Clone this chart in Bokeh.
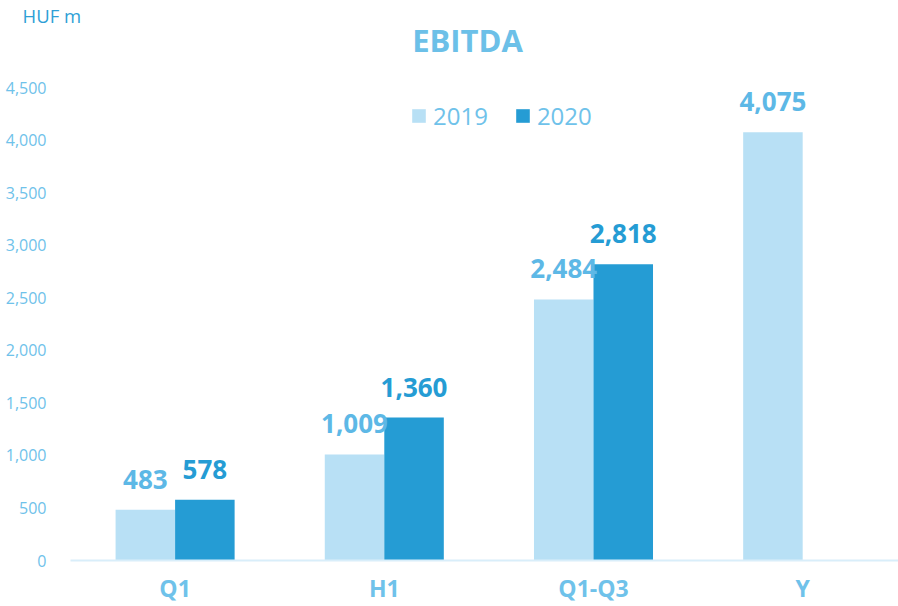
from bokeh.plotting import figure
from bokeh.models import (ColumnDataSource, Range1d, FixedTicker, Label,
                          NumeralTickFormatter, LabelSet, Legend, LegendItem)
from bokeh.core.properties import value
from bokeh.embed import file_html
from bokeh.resources import INLINE

categories = ["Q1", "H1", "Q1-Q3", "Y"]
values_2019 = [483, 1009, 2484, 4075]
values_2020 = [578, 1360, 2818, None]
series_names = ["2019", "2020"]
y_ticks = [0, 500, 1000, 1500, 2000, 2500, 3000, 3500, 4000, 4500]

C2019 = "#B8E0F5"
C2020 = "#259CD4"
LBL2019 = "#5DB8E6"
LBL2020 = "#259CD4"
TICK = "#6FC2EA"
FONT = "Open Sans"
BW = 0.2845  # bar width, in category units

# layout: frame top/bottom in px; axis max (4500) sits 60px below frame top
TOP, BOTTOM_PANEL, H = 27, 46, 606
FRAME_H = H - TOP - BOTTOM_PANEL
Y_MAX = y_ticks[-1] * FRAME_H / (FRAME_H - 60)

cat_pos = [i + 0.5 for i in range(len(categories))]

def make_source(vals, shift):
    xs = [c + shift for c, v in zip(cat_pos, vals) if v is not None]
    vs = [v for v in vals if v is not None]
    return ColumnDataSource(dict(x=xs, val=vs, txt=[f"{v:,}" for v in vs]))

s19 = make_source(values_2019, -BW / 2)
s20 = make_source(values_2020, BW / 2)

p = figure(width=898, height=H, output_backend="svg", toolbar_location=None,
           x_range=Range1d(0, 3.958), y_range=Range1d(0, Y_MAX),
           min_border_left=70, min_border_right=0, min_border_top=TOP,
           min_border_bottom=BOTTOM_PANEL)
p.outline_line_color = None
p.xgrid.grid_line_color = None
p.ygrid.grid_line_color = None

r19 = p.vbar(x="x", top="val", width=BW, source=s19, fill_color=C2019, line_color=None)
r20 = p.vbar(x="x", top="val", width=BW, source=s20, fill_color=C2020, line_color=None)

for src, col in [(s19, LBL2019), (s20, LBL2020)]:
    p.add_layout(LabelSet(x="x", y="val", text="txt", source=src,
                          text_align="center", text_baseline="alphabetic", y_offset=21,
                          text_font=value(FONT), text_font_style="bold", text_font_size="26px",
                          text_color=col))

# y axis
p.yaxis.ticker = FixedTicker(ticks=y_ticks)
p.yaxis.formatter = NumeralTickFormatter(format="0,0")
p.yaxis.axis_line_color = None
p.yaxis.major_tick_line_color = None
p.yaxis.minor_tick_line_color = None
p.yaxis.major_label_text_color = TICK
p.yaxis.major_label_text_font = FONT
p.yaxis.major_label_text_font_size = "16px"
p.yaxis.major_label_standoff = 18

# x axis (categories)
p.xaxis.ticker = FixedTicker(ticks=cat_pos)
p.xaxis.major_label_overrides = {c: lab for c, lab in zip(cat_pos, categories)}
p.xaxis.axis_line_color = "#D9EEFA"
p.xaxis.axis_line_width = 2
p.xaxis.major_tick_line_color = None
p.xaxis.minor_tick_line_color = None
p.xaxis.major_label_text_color = TICK
p.xaxis.major_label_text_font = FONT
p.xaxis.major_label_text_font_style = "bold"
p.xaxis.major_label_text_font_size = "23px"
p.xaxis.major_label_standoff = 5

legend = Legend(items=[LegendItem(label=series_names[0], renderers=[r19]),
                       LegendItem(label=series_names[1], renderers=[r20])],
                orientation="horizontal", location=(340, 428),
                glyph_width=17, glyph_height=17, spacing=26, padding=0, margin=0,
                label_text_font=FONT, label_text_font_size="24px", label_text_color=TICK,
                label_standoff=6, border_line_color=None, background_fill_alpha=0)
p.add_layout(legend)

# chart title inside the (extended) frame
p.add_layout(Label(x=397, y=FRAME_H - 12, x_units="screen", y_units="screen", text="EBITDA",
                   text_align="center", text_baseline="alphabetic", text_font=FONT,
                   text_font_style="bold", text_font_size="31px", text_color="#6CC0E8"))

# unit caption as the figure title
p.title.text = "HUF m"
p.title.align = "left"
p.title.offset = -48
p.title.standoff = 0
p.title.text_font = FONT
p.title.text_font_style = "normal"
p.title.text_font_size = "18.5px"
p.title.text_color = "#2E9FD6"

open("out.html", "w").write(file_html(p, INLINE))
